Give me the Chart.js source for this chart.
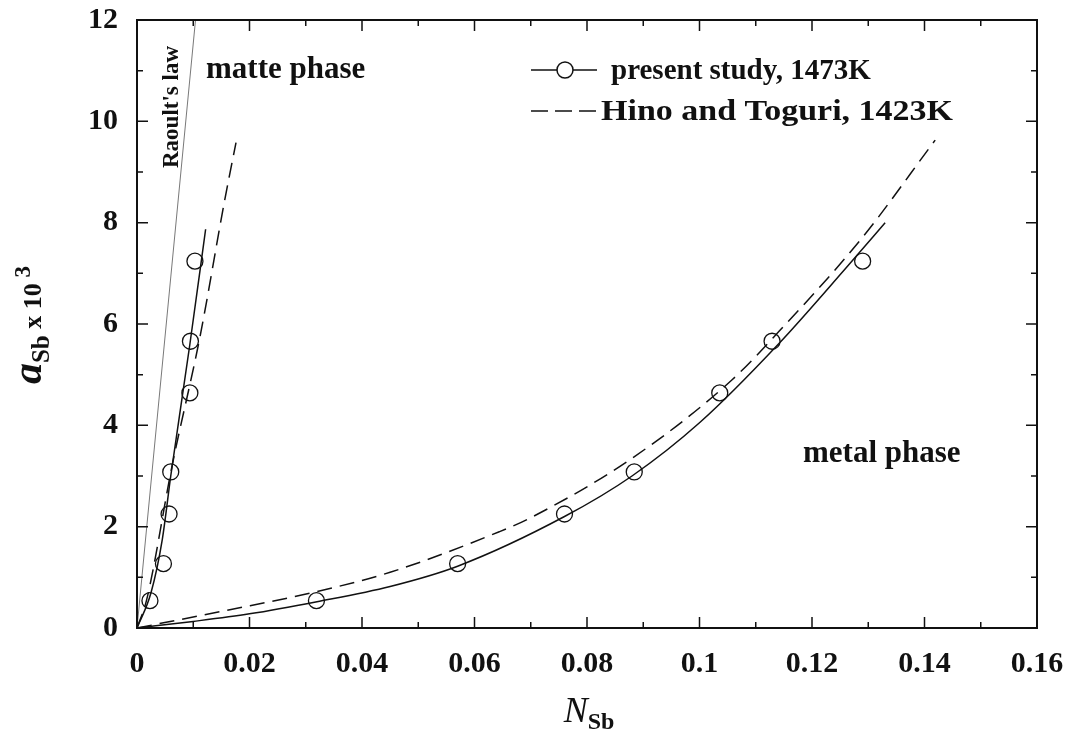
<!DOCTYPE html>
<html>
<head>
<meta charset="utf-8">
<script src="https://cdn.jsdelivr.net/npm/chart.js@4"></script>
<style>
  html, body { margin: 0; padding: 0; background: #fff; }
  #wrap { width: 1073px; height: 750px; }
</style>
</head>
<body>
<div id="wrap"><canvas id="chart" width="1073" height="750"></canvas></div>
<script>
// measured activity a_Sb x 10^3 (same for both phases)
const activity = [0.54, 1.27, 2.25, 3.08, 4.64, 5.66, 7.24];
// mole fraction of Sb in matte and metal
const matteN = [0.0023, 0.0047, 0.0057, 0.0060, 0.0094, 0.0095, 0.0103];
const metalN = [0.0319, 0.0570, 0.0760, 0.0884, 0.1036, 0.1129, 0.1290];

// Raoult's law line
const raoultN = [0, 0.0104];
const raoultA = [0, 12];

// present study fitted curves
const matteFitN = [0, 0.0025, 0.0045, 0.0060, 0.0094, 0.0122];
const matteFitA = [0, 0.70, 1.75, 3.00, 5.60, 7.87];
const metalFitN = [0, 0.010, 0.020, 0.032, 0.045, 0.057, 0.076, 0.088, 0.100, 0.114, 0.126, 0.133];
const metalFitA = [0, 0.13, 0.28, 0.52, 0.82, 1.22, 2.20, 3.00, 4.05, 5.60, 7.10, 8.00];

// Hino and Toguri, 1423K
const hinoMatteN = [0, 0.0017, 0.0062, 0.0112, 0.0156, 0.0176];
const hinoMatteA = [0, 0.55, 3.18, 5.75, 8.45, 9.58];
const hinoMetalN = [0, 0.0165, 0.032, 0.045, 0.0644, 0.0697, 0.088, 0.1058, 0.1141, 0.1289, 0.1419];
const hinoMetalA = [0, 0.36, 0.72, 1.10, 1.90, 2.16, 3.35, 4.90, 5.85, 7.70, 9.63];

const xTicks = [0, 0.02, 0.04, 0.06, 0.08, 0.1, 0.12, 0.14, 0.16];
const yTicks = [0, 2, 4, 6, 8, 10, 12];

const serif = '"Liberation Serif", "Times New Roman", serif';
const pts = (xs, ys) => xs.map((x, i) => ({ x: x, y: ys[i] }));

const lineDs = (data, dash, width, color) => ({
  data: data,
  showLine: true,
  borderColor: color || '#111',
  borderWidth: width,
  borderDash: dash,
  pointRadius: 0,
  tension: 0.4,
  cubicInterpolationMode: 'monotone',
  fill: false
});

const markerDs = (data) => ({
  data: data,
  showLine: false,
  pointRadius: 8,
  pointBackgroundColor: '#fff',
  pointBorderColor: '#111',
  pointBorderWidth: 1.3
});

// frame, inward ticks, texts and legend
const decor = {
  id: 'decor',
  afterDraw(chart) {
    const ctx = chart.ctx;
    const a = chart.chartArea;
    const xs = chart.scales.x, ys = chart.scales.y;
    ctx.save();
    ctx.strokeStyle = '#111';
    ctx.lineWidth = 2;
    ctx.strokeRect(a.left, a.top, a.right - a.left, a.bottom - a.top);

    ctx.lineWidth = 1.5;
    for (let i = 0; i <= 16; i++) {
      const px = xs.getPixelForValue(i * 0.01);
      const len = i % 2 === 0 ? 11 : 6;
      ctx.beginPath();
      ctx.moveTo(px, a.bottom); ctx.lineTo(px, a.bottom - len);
      ctx.moveTo(px, a.top); ctx.lineTo(px, a.top + len);
      ctx.stroke();
    }
    for (let i = 0; i <= 12; i++) {
      const py = ys.getPixelForValue(i);
      const len = i % 2 === 0 ? 11 : 6;
      ctx.beginPath();
      ctx.moveTo(a.left, py); ctx.lineTo(a.left + len, py);
      ctx.moveTo(a.right, py); ctx.lineTo(a.right - len, py);
      ctx.stroke();
    }

    ctx.fillStyle = '#111';
    ctx.textBaseline = 'alphabetic';

    // phase labels
    ctx.font = 'bold 31px ' + serif;
    ctx.textAlign = 'left';
    ctx.fillText('matte phase', 206, 78);
    ctx.fillText('metal phase', 803, 462);

    // Raoult's law label, rotated
    ctx.save();
    ctx.translate(178, 107);
    ctx.rotate(-Math.PI / 2);
    ctx.font = 'bold 23px ' + serif;
    ctx.textAlign = 'center';
    ctx.fillText("Raoult's law", 0, 0);
    ctx.restore();

    // legend
    ctx.font = 'bold 29px ' + serif;
    ctx.textAlign = 'left';
    ctx.lineWidth = 1.5;
    ctx.beginPath();
    ctx.moveTo(531, 70); ctx.lineTo(597, 70);
    ctx.stroke();
    ctx.beginPath();
    ctx.arc(565, 70, 8, 0, Math.PI * 2);
    ctx.fillStyle = '#fff';
    ctx.fill();
    ctx.stroke();
    ctx.fillStyle = '#111';
    ctx.fillText('present study, 1473K', 611, 79);

    ctx.setLineDash([17, 7]);
    ctx.beginPath();
    ctx.moveTo(531, 111); ctx.lineTo(598, 111);
    ctx.stroke();
    ctx.setLineDash([]);
    const hino = 'Hino and Toguri, 1423K';
    const hw = ctx.measureText(hino).width;
    ctx.save();
    ctx.translate(601, 120);
    ctx.scale(352 / hw, 1);
    ctx.fillText(hino, 0, 0);
    ctx.restore();

    // x axis title N_Sb
    const xParts = [
      { t: 'N', f: 'italic 36px ' + serif, dy: 0 },
      { t: 'Sb', f: 'bold 24px ' + serif, dy: 7 }
    ];
    let w = 0;
    xParts.forEach(p => { ctx.font = p.f; w += ctx.measureText(p.t).width; });
    let cx = (a.left + a.right) / 2 - w / 2 + 2;
    xParts.forEach(p => {
      ctx.font = p.f;
      ctx.fillText(p.t, cx, 722 + p.dy);
      cx += ctx.measureText(p.t).width;
    });

    // y axis title a_Sb x 10^3
    const yParts = [
      { t: 'a', f: 'bold italic 42px ' + serif, dy: 0 },
      { t: 'Sb', f: 'bold 25px ' + serif, dy: 8 },
      { t: ' x 10', f: 'bold 26px ' + serif, dy: 0 },
      { t: ' 3', f: 'bold 23px ' + serif, dy: -11 }
    ];
    ctx.save();
    ctx.translate(41, 325);
    ctx.rotate(-Math.PI / 2);
    w = 0;
    yParts.forEach(p => { ctx.font = p.f; w += ctx.measureText(p.t).width; });
    cx = -w / 2;
    yParts.forEach(p => {
      ctx.font = p.f;
      ctx.fillText(p.t, cx, p.dy);
      cx += ctx.measureText(p.t).width;
    });
    ctx.restore();

    ctx.restore();
  }
};

new Chart(document.getElementById('chart'), {
  type: 'scatter',
  data: {
    datasets: [
      lineDs(pts(raoultN, raoultA), [], 0.8, '#555'),
      lineDs(pts(matteFitN, matteFitA), [], 1.5),
      lineDs(pts(hinoMatteN, hinoMatteA), [15, 8], 1.5),
      lineDs(pts(metalFitN, metalFitA), [], 1.5),
      lineDs(pts(hinoMetalN, hinoMetalA), [15, 8], 1.5),
      markerDs(pts(matteN, activity)),
      markerDs(pts(metalN, activity))
    ]
  },
  options: {
    responsive: false,
    animation: false,
    layout: { padding: { top: 20, right: 36, left: 0, bottom: 0 } },
    plugins: {
      legend: { display: false },
      tooltip: { enabled: false }
    },
    scales: {
      x: {
        type: 'linear',
        min: 0,
        max: 0.16,
        afterBuildTicks: (s) => { s.ticks = xTicks.map(v => ({ value: v })); },
        afterFit: (s) => {
          s.height = 122;
          s.paddingLeft = 0;
          s.paddingRight = 0;
        },
        grid: { display: false, drawTicks: false },
        border: { display: false },
        ticks: {
          padding: 18,
          color: '#111',
          font: { family: serif, size: 30, weight: 'bold' },
          callback: (v) => String(Math.round(v * 100) / 100)
        }
      },
      y: {
        type: 'linear',
        min: 0,
        max: 12,
        afterBuildTicks: (s) => { s.ticks = yTicks.map(v => ({ value: v })); },
        afterFit: (s) => {
          s.width = 137;
          s.paddingTop = 0;
          s.paddingBottom = 0;
        },
        grid: { display: false, drawTicks: false },
        border: { display: false },
        ticks: {
          padding: 19,
          color: '#111',
          font: { family: serif, size: 30, weight: 'bold' }
        }
      }
    }
  },
  plugins: [decor]
});
</script>
</body>
</html>
